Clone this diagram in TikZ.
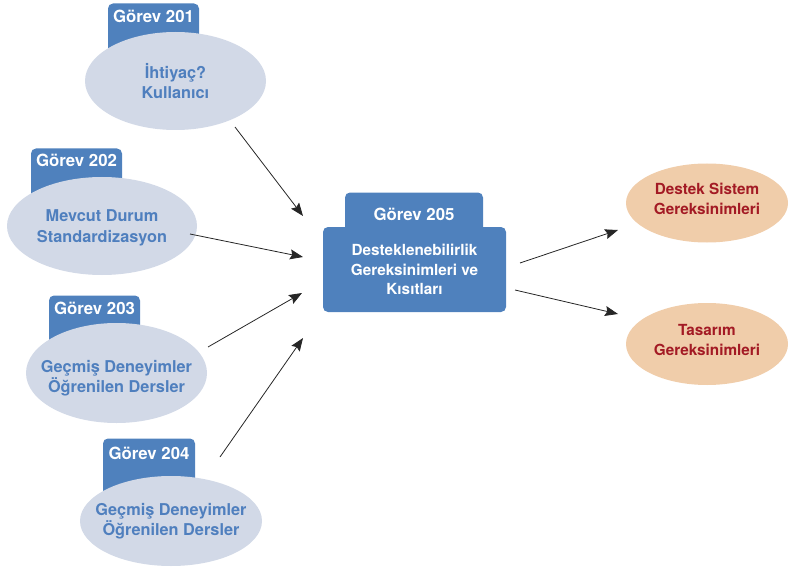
\documentclass[tikz,border=0pt]{standalone}
\usepackage{fontspec}
\setmainfont{TeX Gyre Heros}
\usetikzlibrary{shapes.geometric,arrows.meta}
\definecolor{tabblue}{HTML}{4F81BD}
\definecolor{ovalfill}{HTML}{D2D9E7}
\definecolor{ovaltext}{HTML}{4F7FBE}
\definecolor{peach}{HTML}{F0CDAA}
\definecolor{darkred}{HTML}{A31A24}
\tikzset{
  tabnode/.style={rectangle, rounded corners=5pt, fill=tabblue, text=white,
    inner sep=0pt, font=\bfseries\fontsize{16.8}{20}\selectfont, anchor=base},
  inoval/.style={ellipse, fill=ovalfill, inner sep=0pt},
  intext/.style={text=ovaltext, inner sep=0pt, align=center,
    font=\bfseries\fontsize{16.3}{20.5}\selectfont},
  outoval/.style={ellipse, fill=peach, inner sep=0pt},
  outtext/.style={text=darkred, inner sep=0pt, align=center,
    font=\bfseries\fontsize{15.3}{19.5}\selectfont},
  taskbox/.style={rectangle, rounded corners=5pt, fill=tabblue, text=white,
    inner sep=0pt, align=center, minimum width=183pt, minimum height=85pt,
    font=\bfseries\fontsize{15.3}{19.5}\selectfont},
  arr/.style={draw=black!85, line width=0.8pt, -{Stealth[length=13pt,width=10pt,inset=2pt]}}
}
\begin{document}
\begin{tikzpicture}[x=1pt,y=-1pt]
\useasboundingbox (0,0) rectangle (789,572);

% tabs behind the input ovals
\node[tabnode, minimum width=91pt, text height=18.8pt, text depth=31pt] (t201) at (153.5,22.3) {Görev 201};
\node[tabnode, minimum width=91pt, text height=17.8pt, text depth=34pt] (t202) at (76.5,166.3) {Görev 202};
\node[tabnode, minimum width=91pt, text height=18.8pt, text depth=32pt] (t203) at (94.5,314.3) {Görev 203};
\node[tabnode, minimum width=92pt, text height=20.8pt, text depth=38pt] (t204) at (149,459.3) {Görev 204};

% input ovals
\node[inoval, minimum width=181pt, minimum height=98pt,
  label={[intext]center:{İhtiyaç?\\Kullanıcı}}] (e201) at (175.5,81) {};
\node[inoval, minimum width=190pt, minimum height=98pt,
  label={[intext, yshift=-2pt]center:{Mevcut Durum\\Standardizasyon}}] (e202) at (102,226) {};
\node[inoval, minimum width=181pt, minimum height=100pt,
  label={[intext, yshift=-5pt]center:{Geçmiş Deneyimler\\Öğrenilen Dersler}}] (e203) at (116.5,373) {};
\node[inoval, minimum width=182pt, minimum height=90pt,
  label={[intext]center:{Geçmiş Deneyimler\\Öğrenilen Dersler}}] (e204) at (171,521) {};

% central task
\node[tabnode, minimum width=138pt, text height=27.5pt, text depth=20pt] (t205) at (414,220) {Görev 205};
\node[taskbox] (box) at (414.5,269.5) {Desteklenebilirlik\\Gereksinimleri ve\\Kısıtları};

% outputs
\node[outoval, minimum width=162pt, minimum height=79pt,
  label={[outtext, yshift=4pt]center:{Destek Sistem\\Gereksinimleri}}] (o1) at (707,203) {};
\node[outoval, minimum width=162pt, minimum height=82pt,
  label={[outtext, yshift=4pt]center:{Tasarım\\Gereksinimleri}}] (o2) at (707,344) {};

% connector end points
\coordinate (a1s) at (235,127);  \coordinate (a1e) at (303,216);
\coordinate (a2s) at (190,234);  \coordinate (a2e) at (303,257);
\coordinate (a3s) at (208,347);  \coordinate (a3e) at (302,293);
\coordinate (a4s) at (220,457);  \coordinate (a4e) at (303,338);
\coordinate (a5s) at (520,263);  \coordinate (a5e) at (618,230);
\coordinate (a6s) at (515,290);  \coordinate (a6e) at (618,314);

\draw[arr] (a1s) -- (a1e);
\draw[arr] (a2s) -- (a2e);
\draw[arr] (a3s) -- (a3e);
\draw[arr] (a4s) -- (a4e);
\draw[arr] (a5s) -- (a5e);
\draw[arr] (a6s) -- (a6e);
\end{tikzpicture}
\end{document}
